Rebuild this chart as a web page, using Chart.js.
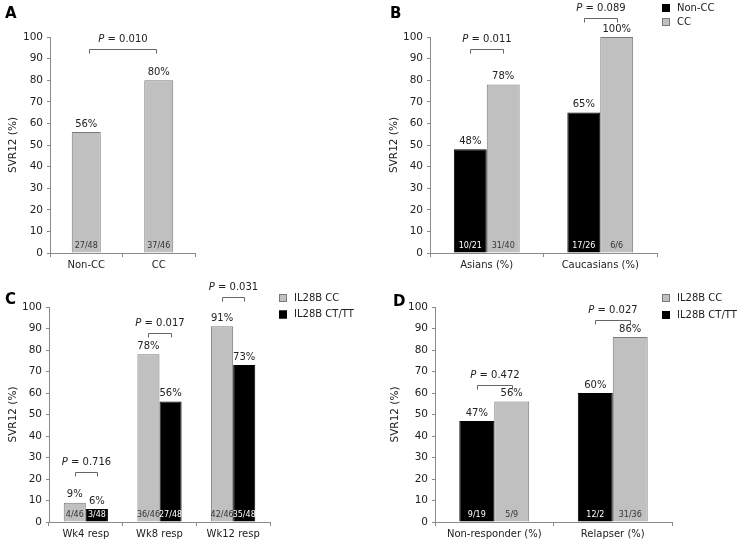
<!DOCTYPE html>
<html>
<head>
<meta charset="utf-8">
<script src="https://cdn.jsdelivr.net/npm/chart.js@4.4.1/dist/chart.umd.min.js"></script>
<style>
body { margin: 0; background: #fff; width: 737px; height: 543px; position: relative; overflow: hidden; }
canvas { position: absolute; }
</style>
</head>
<body>
<canvas id="panelA" width="368" height="270" style="left:0;top:0"></canvas>
<canvas id="panelB" width="369" height="270" style="left:368px;top:0"></canvas>
<canvas id="panelC" width="368" height="273" style="left:0;top:270px"></canvas>
<canvas id="panelD" width="369" height="273" style="left:368px;top:270px"></canvas>
<script>
var FONT = "'DejaVu Sans', Verdana, sans-serif";
var GREY = "#c0c0c0";
var BLACK = "#000000";
var AXIS = "#8a8a8a";
var TEXT = "#222";

// A - all patients
var labelsA = ["Non-CC", "CC"];
var valuesA = [56, 80];
var countsA = ["27/48", "37/46"];
var pA = ["0.010"];

// B - by ethnicity
var labelsB = ["Asians (%)", "Caucasians (%)"];
var nonCcB = [48, 65];
var ccB = [78, 100];
var nonCcCountsB = ["10/21", "17/26"];
var ccCountsB = ["31/40", "6/6"];
var pB = ["0.011", "0.089"];

// C - by week of response
var labelsC = ["Wk4 resp", "Wk8 resp", "Wk12 resp"];
var ccC = [9, 78, 91];
var ctC = [6, 56, 73];
var ccCountsC = ["4/46", "36/46", "42/46"];
var ctCountsC = ["3/48", "27/48", "35/48"];
var pC = ["0.716", "0.017", "0.031"];

// D - by prior response
var labelsD = ["Non-responder (%)", "Relapser (%)"];
var ctD = [47, 60];
var ccD = [56, 86];
var ctCountsD = ["9/19", "12/2"];
var ccCountsD = ["5/9", "31/36"];
var pD = ["0.472", "0.027"];

function bars(label, data, counts, color) {
    return {
        label: label,
        data: data,
        counts: counts,
        backgroundColor: color,
        borderColor: color == BLACK ? BLACK : "#7a7a7a",
        borderWidth: 1,
        barPercentage: 1,
    };
}

function panel(id, labels, datasets, cfg) {
    var extras = {
        id: "extras",
        afterDraw: function (chart) {
            var ctx = chart.ctx;
            var y = chart.scales.y;
            ctx.save();
            ctx.textAlign = "center";
            ctx.textBaseline = "middle";
            // value on top, n/N at the base
            chart.data.datasets.forEach(function (ds, i) {
                chart.getDatasetMeta(i).data.forEach(function (bar, j) {
                    ctx.font = "10px " + FONT;
                    ctx.fillStyle = TEXT;
                    ctx.fillText(ds.data[j] + "%", bar.x, bar.y - 8);
                    ctx.font = "8px " + FONT;
                    ctx.fillStyle = ds.backgroundColor == BLACK ? "#fff" : "#333";
                    ctx.fillText(ds.counts[j], bar.x, y.getPixelForValue(0) - 7);
                });
            });
            // P value brackets
            cfg.brackets.forEach(function (b) {
                var m1 = chart.getDatasetMeta(b.from[0]).data[b.from[1]];
                var m2 = chart.getDatasetMeta(b.to[0]).data[b.to[1]];
                var inset = b.inset || 0;
                var x1 = Math.round(m1.x + inset) + 0.5;
                var x2 = Math.round(m2.x - inset) + 0.5;
                var by = Math.round(y.getPixelForValue(b.level)) + 0.5;
                ctx.strokeStyle = "#666";
                ctx.lineWidth = 1;
                ctx.beginPath();
                ctx.moveTo(x1, by + 4);
                ctx.lineTo(x1, by);
                ctx.lineTo(x2, by);
                ctx.lineTo(x2, by + 4);
                ctx.stroke();
                ctx.fillStyle = TEXT;
                ctx.font = "italic 10px " + FONT;
                var w1 = ctx.measureText("P").width;
                var rest = " = " + b.p;
                ctx.font = "10px " + FONT;
                var w2 = ctx.measureText(rest).width;
                var sx = (x1 + x2) / 2 - (w1 + w2) / 2;
                ctx.textAlign = "left";
                ctx.font = "italic 10px " + FONT;
                ctx.fillText("P", sx, by - 10);
                ctx.font = "10px " + FONT;
                ctx.fillText(rest, sx + w1, by - 10);
                ctx.textAlign = "center";
            });
            // legend
            if (cfg.legend) {
                cfg.legend.order.forEach(function (di, k) {
                    var ds = chart.data.datasets[di];
                    var cy = cfg.legend.y + k * cfg.legend.gap;
                    ctx.fillStyle = ds.backgroundColor;
                    ctx.fillRect(cfg.legend.x, cy - 4, 8, 8);
                    ctx.strokeStyle = ds.borderColor;
                    ctx.strokeRect(cfg.legend.x + 0.5, cy - 3.5, 7, 7);
                    ctx.fillStyle = TEXT;
                    ctx.font = "10px " + FONT;
                    ctx.textAlign = "left";
                    ctx.fillText(ds.label, cfg.legend.x + 15, cy);
                });
            }
            // panel letter
            ctx.fillStyle = "#000";
            ctx.font = "bold 15px " + FONT;
            ctx.textAlign = "left";
            ctx.textBaseline = "alphabetic";
            ctx.fillText(cfg.letter[0], cfg.letter[1], cfg.letter[2]);
            ctx.restore();
        },
    };
    datasets.forEach(function (ds) {
        ds.categoryPercentage = cfg.cat;
    });
    return new Chart(document.getElementById(id).getContext("2d"), {
        type: "bar",
        data: { labels: labels, datasets: datasets },
        options: {
            responsive: false,
            animation: false,
            layout: { padding: cfg.padding },
            plugins: {
                legend: { display: false },
                tooltip: { enabled: false },
            },
            scales: {
                x: {
                    grid: { drawOnChartArea: false, tickLength: 4, color: AXIS },
                    border: { color: AXIS },
                    ticks: { font: { family: FONT, size: 10 }, color: TEXT, padding: 2, maxRotation: 0 },
                    afterFit: function (s) { s.height = cfg.xHeight; },
                },
                y: {
                    min: 0,
                    max: 100,
                    ticks: { stepSize: 10, font: { family: FONT, size: 10.5 }, color: TEXT, padding: 4 },
                    grid: { drawOnChartArea: false, tickLength: 3, color: AXIS },
                    border: { color: AXIS },
                    title: {
                        display: true,
                        text: "SVR12 (%)",
                        font: { family: FONT, size: 10.5 },
                        color: TEXT,
                        padding: { top: 7, bottom: 0 },
                    },
                    afterFit: function (s) { s.width = cfg.yWidth; },
                },
            },
        },
        plugins: [extras],
    });
}

panel("panelA", labelsA, [bars("SVR12", valuesA, countsA, GREY)], {
    padding: { left: 0, top: 37, right: 173, bottom: 0 },
    yWidth: 50, xHeight: 17, cat: 0.4,
    letter: ["A", 5, 18],
    brackets: [{ from: [0, 0], to: [0, 1], level: 94.3, p: pA[0], inset: 3 }],
});

panel("panelB", labelsB, [
    bars("Non-CC", nonCcB, nonCcCountsB, BLACK),
    bars("CC", ccB, ccCountsB, GREY),
], {
    padding: { left: 13, top: 37, right: 80, bottom: 0 },
    yWidth: 49, xHeight: 17, cat: 0.58,
    letter: ["B", 22, 18],
    legend: { order: [0, 1], x: 294, y: 8, gap: 14 },
    brackets: [
        { from: [0, 0], to: [1, 0], level: 94.3, p: pB[0] },
        { from: [0, 1], to: [1, 1], level: 108.8, p: pB[1] },
    ],
});

panel("panelC", labelsC, [
    bars("IL28B CC", ccC, ccCountsC, GREY),
    bars("IL28B CT/TT", ctC, ctCountsC, BLACK),
], {
    padding: { left: 0, top: 37, right: 98, bottom: 0 },
    yWidth: 49, xHeight: 21, cat: 0.6,
    letter: ["C", 5, 34],
    legend: { order: [0, 1], x: 279, y: 28, gap: 16.5 },
    brackets: [
        { from: [0, 0], to: [1, 0], level: 23.4, p: pC[0] },
        { from: [0, 1], to: [1, 1], level: 87.9, p: pC[1] },
        { from: [0, 2], to: [1, 2], level: 104.5, p: pC[2] },
    ],
});

panel("panelD", labelsD, [
    bars("IL28B CT/TT", ctD, ctCountsD, BLACK),
    bars("IL28B CC", ccD, ccCountsD, GREY),
], {
    padding: { left: 14, top: 37, right: 65, bottom: 0 },
    yWidth: 53, xHeight: 21, cat: 0.59,
    letter: ["D", 25, 36],
    legend: { order: [1, 0], x: 294, y: 28, gap: 17 },
    brackets: [
        { from: [0, 0], to: [1, 0], level: 63.6, p: pD[0] },
        { from: [0, 1], to: [1, 1], level: 93.8, p: pD[1] },
    ],
});
</script>
</body>
</html>
